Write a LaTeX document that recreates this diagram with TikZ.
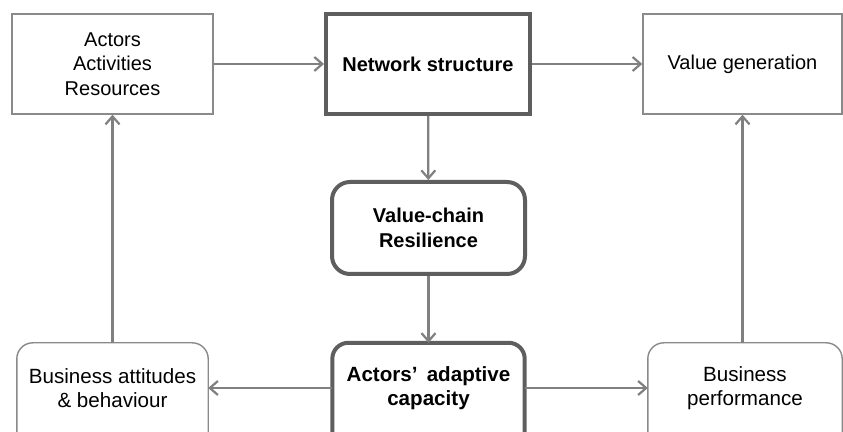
\documentclass[tikz,border=0pt]{standalone}
\usepackage{fontspec}
\setmainfont{Liberation Sans}
\usetikzlibrary{arrows.meta}
\definecolor{thinframe}{HTML}{8A8A8A}
\definecolor{thickframe}{HTML}{5E5E5E}
\definecolor{arrowgray}{HTML}{808080}
\tikzset{
  x=1pt, y=1pt,
  txt/.style={font=\fontsize{20}{24.5}\selectfont, align=center, inner sep=0pt},
  bottomtxt/.style={txt, font=\fontsize{20.6}{24.5}\selectfont},
  thinbox/.style={txt, draw=thinframe, line width=1.4pt, rectangle},
  thickbox/.style={txt, draw=thickframe, line width=4pt, rectangle},
  frameline/.style={draw=thinframe, line width=1.4pt, rounded corners=16pt},
  thickframeline/.style={draw=thickframe, line width=4pt, rounded corners=16pt},
  conn/.style={draw=arrowgray, line width=2.2pt, -{Straight Barb[length=8pt,width=14pt]}},
}
\begin{document}
\begin{tikzpicture}
\useasboundingbox (0,0) rectangle (843,431);
\clip (0,0) rectangle (843,431);
\fill[white] (0,0) rectangle (843,431);

% top row
\node[thinbox, minimum width=201, minimum height=100] (A) at (112.5,367)
  {Actors\\Activities\\Resources};
\node[thickbox, minimum width=204, minimum height=100, font=\fontsize{20}{24.5}\selectfont\bfseries] (N) at (428,367)
  {Network structure};
\node[thinbox, minimum width=199, minimum height=100] (V) at (742.5,367)
  {Value generation};

% middle
\node[thickbox, rounded corners=18pt, minimum width=193, minimum height=92, font=\fontsize{20}{24.5}\selectfont\bfseries] (R) at (428.5,203)
  {Value-chain\\Resilience};

% bottom row (frames continue below the picture edge)
\node[bottomtxt, minimum width=191, minimum height=90] (BL) at (112.5,43)
  {Business attitudes\\\& behaviour};
\node[bottomtxt, minimum width=192, minimum height=90, font=\fontsize{20.6}{24.5}\selectfont\bfseries] (C) at (428.5,43)
  {Actors’\, adaptive\\capacity};
\node[bottomtxt, minimum width=194, minimum height=90] (BP) at (745,43)
  {Business\\performance};

\draw[frameline] (BL.south west) ++(0,-40) |- (BL.north east) -- ++(0,-140);
\draw[thickframeline] (C.south west) ++(0,-40) |- (C.north east) -- ++(0,-140);
\draw[frameline] (BP.south west) ++(0,-40) |- (BP.north east) -- ++(0,-140);

% connectors
\draw[conn] (A) -- (N);
\draw[conn] (N) -- (V);
\draw[conn] (N) -- (R);
\draw[conn] (R) -- (C.north);
\draw[conn] (C) -- (BL);
\draw[conn] (C) -- (BP);
\draw[conn] (BL.north) -- (A);
\draw[conn] (BP.north -| V.south) -- (V.south);
\end{tikzpicture}
\end{document}
